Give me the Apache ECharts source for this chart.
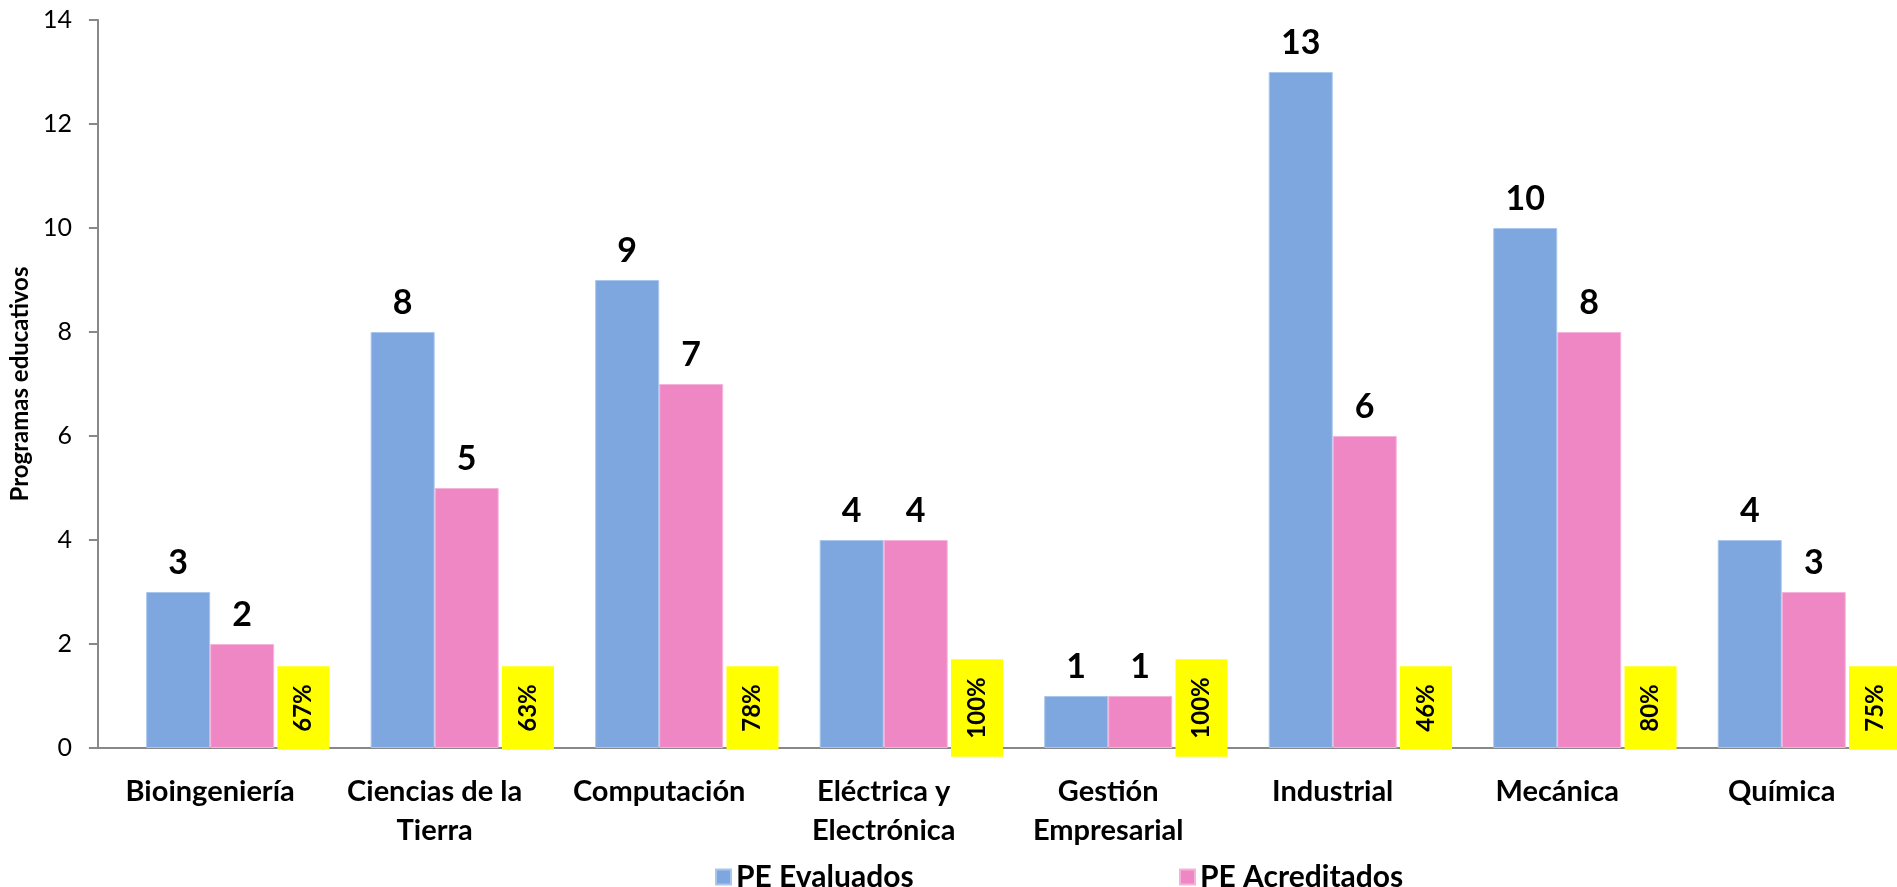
<!DOCTYPE html>
<html>
<head>
<meta charset="utf-8">
<script src="https://cdn.jsdelivr.net/npm/echarts@6/dist/echarts.min.js"></script>
<style>
html,body{margin:0;padding:0;background:#fff;}
#chart{width:1897px;height:887px;}
</style>
</head>
<body>
<div id="chart"></div>
<script>
const categories = ['Bioingeniería', 'Ciencias de la\nTierra', 'Computación', 'Eléctrica y\nElectrónica', 'Gestión\nEmpresarial', 'Industrial', 'Mecánica', 'Química'];
const evaluados = [3, 8, 9, 4, 1, 13, 10, 4];
const acreditados = [2, 5, 7, 4, 1, 6, 8, 3];
const percentLabels = ['67%', '63%', '78%', '100%', '100%', '46%', '80%', '75%'];
const yTicks = { min: 0, max: 14, interval: 2 };

const FONT = 'Lato, "Open Sans", sans-serif';
const chart = echarts.init(document.getElementById('chart'));

const valueLabel = {
  show: true,
  position: 'top',
  distance: 12,
  fontFamily: FONT,
  fontWeight: 'bold',
  fontSize: 34,
  color: '#000'
};

const legendText = { fontFamily: FONT, fontWeight: 'bold', fontSize: 30, color: '#000' };

chart.setOption({
  animation: false,
  backgroundColor: '#fff',
  grid: { left: 94, right: 3, top: 20, bottom: 139, containLabel: false },
  legend: [
    { data: ['PE Evaluados'], left: 710, top: 857, icon: 'rect', itemWidth: 15, itemHeight: 15, textStyle: legendText },
    { data: ['PE Acreditados'], left: 1174, top: 857, icon: 'rect', itemWidth: 15, itemHeight: 15, textStyle: legendText }
  ],
  xAxis: {
    type: 'category',
    data: categories,
    axisLine: { show: true, lineStyle: { color: '#888', width: 2 } },
    axisTick: { show: false },
    axisLabel: {
      interval: 0, margin: 24, color: '#000', fontFamily: FONT, fontWeight: 'bold', fontSize: 29, lineHeight: 39
    },
    splitLine: { show: false }
  },
  yAxis: {
    type: 'value',
    min: yTicks.min, max: yTicks.max, interval: yTicks.interval,
    name: 'Programas educativos',
    nameLocation: 'middle',
    nameGap: 55,
    nameTextStyle: { fontFamily: FONT, fontWeight: 'bold', fontSize: 24, color: '#000' },
    axisLine: { show: true, lineStyle: { color: '#888', width: 2 } },
    axisTick: { show: true, length: 9, inside: false, lineStyle: { color: '#888', width: 2 } },
    axisLabel: { margin: 26, color: '#000', fontFamily: FONT, fontSize: 25 },
    splitLine: { show: false }
  },
  series: [
    {
      name: 'PE Evaluados', type: 'bar', data: evaluados, barWidth: 64, barGap: '0%',
      itemStyle: { color: '#7DA7DE', borderColor: '#A9C6EC', borderWidth: 1 },
      label: valueLabel
    },
    {
      name: 'PE Acreditados', type: 'bar', data: acreditados, barWidth: 64, barGap: '0%',
      itemStyle: { color: '#F087C5', borderColor: '#F6B3DA', borderWidth: 1 },
      label: valueLabel
    },
    {
      name: 'pct', type: 'custom',
      data: percentLabels.map((p, i) => [i, 0]),
      clip: false,
      z: 5,
      renderItem: function (params, api) {
        const pt = api.coord([api.value(0), 0]);
        const band = api.size([1, 0])[0];
        return {
          type: 'text',
          x: pt[0] + band * 0.4156,
          y: pt[1] - 40,
          rotation: Math.PI / 2,
          style: {
            text: percentLabels[params.dataIndex],
            x: 0, y: 0,
            align: 'center', verticalAlign: 'middle',
            fontFamily: FONT, fontWeight: 'bold', fontSize: 24,
            fill: '#000',
            backgroundColor: '#FFFF00',
            padding: [14, 18, 14, 18]
          }
        };
      }
    }
  ]
});
</script>
</body>
</html>
